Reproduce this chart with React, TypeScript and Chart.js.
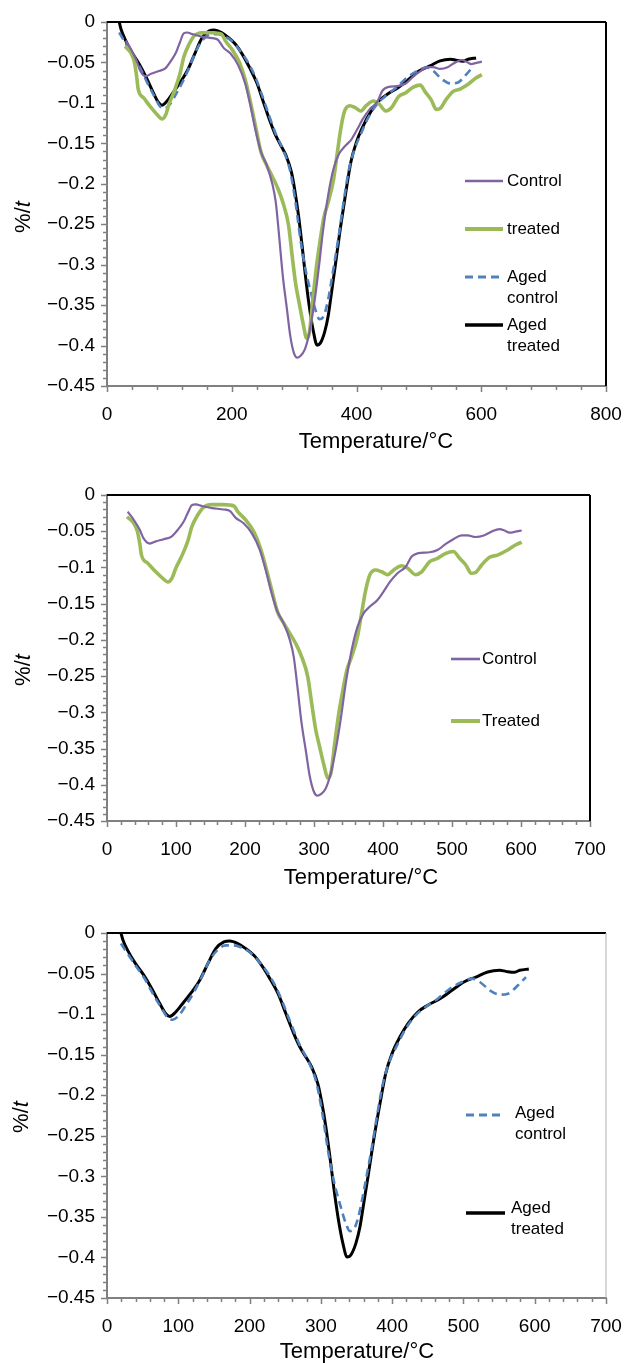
import React, { useEffect, useRef } from 'react';
import { Chart, registerables } from 'chart.js';
Chart.register(...registerables);

// ---------- DATA: [temperature °C, %/t] ----------
const controlPoints: number[][] = [
  [30, -0.023], [39, -0.0345], [47.5, -0.048], [53, -0.06], [62, -0.067], [70.7, -0.064], [82, -0.061],
  [94, -0.057], [102.6, -0.048], [111, -0.037], [117, -0.025], [123, -0.014], [128.6, -0.013], [137, -0.015],
  [152, -0.018], [169, -0.02], [178, -0.022], [187, -0.032], [198, -0.039], [210, -0.053], [221.6, -0.076],
  [230, -0.1035], [238.7, -0.136], [247, -0.161], [256, -0.177], [265, -0.2], [270.6, -0.223], [276, -0.265],
  [282, -0.315], [288, -0.352], [294, -0.389], [300, -0.41], [305, -0.415], [310, -0.413], [317, -0.405],
  [323, -0.389], [328.6, -0.366], [334, -0.338], [340, -0.301], [346, -0.26], [354.6, -0.214], [363, -0.182],
  [372, -0.163], [381, -0.154], [392, -0.145], [401, -0.133], [410, -0.12], [421, -0.108], [433, -0.099],
  [441.5, -0.085], [450, -0.0805], [467.6, -0.079], [479, -0.076], [491, -0.0675], [502, -0.061],
  [514, -0.0557], [522.7, -0.0557], [534, -0.058], [546, -0.056], [557, -0.0506], [569, -0.047],
  [576, -0.049], [583.5, -0.052], [592, -0.0506], [601, -0.049],
];

const treatedPoints: number[][] = [
  [29, -0.03], [38.8, -0.039], [44, -0.05], [47.5, -0.067], [50, -0.083], [59, -0.094], [70.7, -0.106],
  [82, -0.116], [88, -0.12], [94, -0.115], [99.7, -0.101], [108, -0.085], [117, -0.064], [123, -0.0437],
  [131.5, -0.0276], [140, -0.017], [152, -0.0133], [169, -0.0133], [184, -0.0152], [189.5, -0.023],
  [201, -0.0345], [212.7, -0.0506], [221.6, -0.0713], [230, -0.099], [238.7, -0.131], [247, -0.161],
  [256, -0.177], [265, -0.191], [273.5, -0.205], [282, -0.223], [291, -0.251], [296.7, -0.288],
  [302.5, -0.324], [308, -0.347], [315, -0.375], [320, -0.391], [324.5, -0.384], [330, -0.343],
  [336, -0.301], [341.9, -0.269], [347.7, -0.2416], [354.6, -0.223], [363, -0.1956], [369, -0.163],
  [375, -0.131], [381, -0.11], [389.4, -0.1035], [398, -0.106], [406.8, -0.11], [415.5, -0.1035],
  [427, -0.0976], [435.8, -0.101], [447, -0.11], [456, -0.106], [467.6, -0.092], [479, -0.0874],
  [491, -0.0805], [502, -0.078], [511, -0.0874], [520, -0.0966], [528, -0.108], [534, -0.107],
  [543, -0.0966], [554.5, -0.086], [566, -0.083], [580.6, -0.076], [592, -0.069], [601, -0.065],
];

const agedControlPoints: number[][] = [
  [19.6, -0.013], [29, -0.0255], [40, -0.04], [54, -0.058], [65.7, -0.0769], [77, -0.0934], [85, -0.1044],
  [92, -0.107], [101, -0.1015], [110.6, -0.0892], [122, -0.0727], [133, -0.054], [144, -0.0337],
  [155.5, -0.0205], [166.7, -0.0152], [178, -0.0152], [189, -0.018], [200, -0.0234], [211.6, -0.0337],
  [222.9, -0.046], [237, -0.0666], [248, -0.0892], [259, -0.1138], [270.6, -0.1385], [281.8, -0.157],
  [293, -0.182], [301.5, -0.219], [310, -0.268], [318, -0.305], [326.7, -0.334], [335, -0.358],
  [340.7, -0.3675], [348, -0.3625], [354.8, -0.342], [363, -0.305], [371.6, -0.264], [380, -0.219],
  [388, -0.182], [397, -0.157], [408, -0.1365], [419, -0.118], [433, -0.1015], [447, -0.0912],
  [464, -0.081], [481, -0.0687], [498, -0.0604], [512, -0.0563], [523, -0.0604], [537, -0.0707],
  [551, -0.076], [562.5, -0.0748], [576.5, -0.0645], [587.7, -0.0543],
];

const agedTreatedPoints: number[][] = [
  [19.6, 0], [22.5, -0.009], [29, -0.0214], [40, -0.0378], [51.6, -0.052], [62.9, -0.0686], [74, -0.087],
  [82.5, -0.0995], [88, -0.1028], [96.5, -0.0974], [107.8, -0.085], [119, -0.0727], [130, -0.0584],
  [141.5, -0.0378], [152.6, -0.0193], [164, -0.011], [172, -0.0099], [183.6, -0.013], [194.8, -0.0193],
  [206, -0.0275], [217, -0.04], [228.5, -0.0563], [240, -0.0748], [251, -0.0995], [262, -0.124],
  [270.6, -0.1406], [279, -0.153], [287, -0.165], [295.8, -0.186], [301.5, -0.21], [307, -0.239],
  [312.7, -0.276], [318, -0.313], [324, -0.35], [331, -0.383], [336.8, -0.3995], [342, -0.397],
  [349, -0.383], [354.8, -0.3625], [360, -0.334], [366, -0.301], [374, -0.2556], [383, -0.21],
  [391, -0.173], [399.7, -0.149], [411, -0.128], [422, -0.112], [436, -0.0974], [450, -0.089],
  [467, -0.081], [484, -0.0707], [500.7, -0.0604], [517.6, -0.0543], [534, -0.048], [551, -0.046],
  [559.7, -0.0473], [571, -0.0485], [579, -0.046], [591.7, -0.0444],
];

const yMin = -0.45;
const yMax = 0;
const yStep = 0.01;
const xTitle = 'Temperature/°C';

// ---------- styles ----------
const FONT = "'Liberation Sans', Arial, Helvetica, sans-serif";
const seriesStyle: Record<string, any> = {
  control: { borderColor: '#8064A2', borderWidth: 2.2 },
  treated: { borderColor: '#9BBB59', borderWidth: 3.6 },
  agedControl: { borderColor: '#4F81BD', borderWidth: 2.6, borderDash: [8, 5] },
  agedTreated: { borderColor: '#000000', borderWidth: 3 },
};

function makeDataset(label: string, pts: number[][], key: string) {
  return {
    label,
    data: pts.map((p) => ({ x: p[0], y: p[1] })),
    pointRadius: 0,
    fill: false,
    tension: 0.35,
    cubicInterpolationMode: 'monotone',
    ...seriesStyle[key],
  };
}

const tickMarks = {
  id: 'tickMarks',
  afterDraw(chart: any) {
    const ctx = chart.ctx;
    const xs = chart.scales.x;
    const ys = chart.scales.y;
    ctx.save();
    ctx.strokeStyle = '#808080';
    ctx.lineWidth = 1.5;
    ctx.beginPath();
    xs.ticks.forEach((t: any) => {
      const px = Math.round(xs.getPixelForValue(t.value)) + 0.5;
      const len = String(t.label) !== '' ? 6 : 4;
      ctx.moveTo(px, xs.top);
      ctx.lineTo(px, xs.top + len);
    });
    ys.ticks.forEach((t: any) => {
      const py = Math.round(ys.getPixelForValue(t.value)) + 0.5;
      const len = String(t.label) !== '' ? 6 : 4;
      ctx.moveTo(ys.right - len, py);
      ctx.lineTo(ys.right, py);
    });
    ctx.stroke();
    ctx.restore();
  },
};

const frame = {
  id: 'frame',
  afterDraw(chart: any, _a: any, opts: any) {
    const { ctx, chartArea } = chart;
    ctx.save();
    ctx.lineWidth = 2;
    ctx.strokeStyle = opts.topColor;
    ctx.beginPath();
    ctx.moveTo(chartArea.left, chartArea.top);
    ctx.lineTo(chartArea.right, chartArea.top);
    ctx.stroke();
    ctx.strokeStyle = opts.rightColor;
    ctx.lineWidth = opts.rightWidth;
    ctx.beginPath();
    ctx.moveTo(chartArea.right, chartArea.top);
    ctx.lineTo(chartArea.right, chartArea.bottom);
    ctx.stroke();
    ctx.restore();
  },
};

const axisTitles = {
  id: 'axisTitles',
  afterDraw(chart: any, _a: any, opts: any) {
    const ctx = chart.ctx;
    ctx.save();
    ctx.fillStyle = '#000';
    ctx.textBaseline = 'middle';
    ctx.font = `22px ${FONT}`;
    ctx.textAlign = 'center';
    ctx.fillText(opts.xText, opts.xPos[0], opts.xPos[1]);
    // y title: "%/" normal + "t" italic, rotated
    ctx.translate(opts.yPos[0], opts.yPos[1]);
    ctx.rotate(-Math.PI / 2);
    ctx.font = `22px ${FONT}`;
    const a = '%/';
    const wa = ctx.measureText(a).width;
    ctx.font = `italic 22px ${FONT}`;
    const wb = ctx.measureText('t').width;
    const start = -(wa + wb) / 2;
    ctx.textAlign = 'left';
    ctx.font = `22px ${FONT}`;
    ctx.fillText(a, start, 0);
    ctx.font = `italic 22px ${FONT}`;
    ctx.fillText('t', start + wa, 0);
    ctx.restore();
  },
};

const innerLegend = {
  id: 'innerLegend',
  afterDraw(chart: any, _a: any, opts: any) {
    const ctx = chart.ctx;
    ctx.save();
    chart.data.datasets.forEach((ds: any, i: number) => {
      const it = opts.items[i];
      if (!it) return;
      ctx.strokeStyle = ds.borderColor;
      ctx.lineWidth = ds.borderWidth + 0.4;
      ctx.setLineDash(ds.borderDash || []);
      ctx.beginPath();
      ctx.moveTo(it.x1, it.y);
      ctx.lineTo(it.x2, it.y);
      ctx.stroke();
      ctx.setLineDash([]);
      ctx.fillStyle = '#000';
      ctx.font = `17px ${FONT}`;
      ctx.textAlign = 'left';
      ctx.textBaseline = 'middle';
      String(ds.label).split('\n').forEach((line: string, k: number) => {
        ctx.fillText(line, it.tx, it.ty + k * 21);
      });
    });
    ctx.restore();
  },
};

function fmtY(v: number) {
  const n = Math.round(v * 100);
  if (n % 5 !== 0) return '';
  if (n === 0) return '0';
  return '\u2212' + String(Math.abs(n) / 100);
}

type Cfg = {
  top: number;
  height: number;
  plotLeft: number;
  plotRight: number;
  plotTop: number;
  plotBottom: number;
  xMax: number;
  xStep: number;
  xLabelEvery: number;
  datasets: any[];
  legend: any[];
  xTitlePos: number[];
  yTitlePos: number[];
  rightColor: string;
  rightWidth: number;
};

function zeroPad(s: any) {
  s.paddingLeft = 0;
  s.paddingRight = 0;
  s.paddingTop = 0;
  s.paddingBottom = 0;
}

function PanelChart({ cfg }: { cfg: Cfg }) {
  const ref = useRef<HTMLCanvasElement | null>(null);
  useEffect(() => {
    if (!ref.current) return;
    const W = 627;
    const chart = new Chart(ref.current, {
      type: 'line',
      data: { datasets: cfg.datasets },
      plugins: [tickMarks, frame, axisTitles, innerLegend],
      options: {
        animation: false,
        responsive: false,
        maintainAspectRatio: false,
        devicePixelRatio: 1,
        layout: {
          padding: { left: 0, right: W - cfg.plotRight, top: cfg.plotTop - cfg.top, bottom: 0 },
        },
        plugins: {
          legend: { display: false },
          tooltip: { enabled: false },
          frame: { topColor: '#000', rightColor: cfg.rightColor, rightWidth: cfg.rightWidth },
          axisTitles: { xText: xTitle, xPos: cfg.xTitlePos, yPos: cfg.yTitlePos },
          innerLegend: { items: cfg.legend },
        } as any,
        scales: {
          x: {
            type: 'linear',
            min: 0,
            max: cfg.xMax,
            grid: { display: true, drawOnChartArea: false, drawTicks: false },
            border: { display: true, color: '#808080', width: 2 },
            afterFit: (s: any) => {
              s.height = cfg.top + cfg.height - cfg.plotBottom;
              zeroPad(s);
            },
            ticks: {
              stepSize: cfg.xStep,
              autoSkip: false,
              maxRotation: 0,
              padding: 17,
              color: '#000',
              font: { family: FONT, size: 19 },
              callback: (v: any) => (Math.round(Number(v)) % cfg.xLabelEvery === 0 ? String(Math.round(Number(v))) : ''),
            },
          },
          y: {
            type: 'linear',
            min: yMin,
            max: yMax,
            grid: { display: true, drawOnChartArea: false, drawTicks: false },
            border: { display: true, color: '#808080', width: 2 },
            afterFit: (s: any) => {
              s.width = cfg.plotLeft;
              zeroPad(s);
            },
            ticks: {
              stepSize: yStep,
              autoSkip: false,
              padding: 12,
              color: '#000',
              font: { family: FONT, size: 19 },
              callback: (v: any) => fmtY(Number(v)),
            },
          },
        },
      } as any,
    });
    return () => chart.destroy();
  }, [cfg]);
  return (
    <canvas
      ref={ref}
      width={627}
      height={cfg.height}
      style={{ position: 'absolute', left: 0, top: cfg.top, width: 627, height: cfg.height }}
    />
  );
}

const panels: Cfg[] = [
  {
    top: 0,
    height: 465,
    plotLeft: 107,
    plotRight: 606,
    plotTop: 22,
    plotBottom: 386,
    xMax: 800,
    xStep: 40,
    xLabelEvery: 200,
    datasets: [
      makeDataset('Control', controlPoints, 'control'),
      makeDataset('treated', treatedPoints, 'treated'),
      makeDataset('Aged\ncontrol', agedControlPoints, 'agedControl'),
      makeDataset('Aged\ntreated', agedTreatedPoints, 'agedTreated'),
    ],
    legend: [
      { x1: 465, x2: 503, y: 181, tx: 507, ty: 181 },
      { x1: 465, x2: 503, y: 229, tx: 507, ty: 229 },
      { x1: 465, x2: 500, y: 277, tx: 507, ty: 277 },
      { x1: 465, x2: 503, y: 325, tx: 507, ty: 325 },
    ],
    xTitlePos: [376, 442],
    yTitlePos: [24, 217],
    rightColor: '#000',
    rightWidth: 2,
  },
  {
    top: 465,
    height: 440,
    plotLeft: 107,
    plotRight: 590,
    plotTop: 495,
    plotBottom: 821,
    xMax: 700,
    xStep: 20,
    xLabelEvery: 100,
    datasets: [
      makeDataset('Control', controlPoints, 'control'),
      makeDataset('Treated', treatedPoints, 'treated'),
    ],
    legend: [
      { x1: 451, x2: 480, y: 194, tx: 482, ty: 194 },
      { x1: 451, x2: 480, y: 256, tx: 482, ty: 256 },
    ],
    xTitlePos: [361, 413],
    yTitlePos: [24, 205],
    rightColor: '#000',
    rightWidth: 2,
  },
  {
    top: 905,
    height: 458,
    plotLeft: 107,
    plotRight: 606,
    plotTop: 933,
    plotBottom: 1298,
    xMax: 700,
    xStep: 20,
    xLabelEvery: 100,
    datasets: [
      makeDataset('Aged\ncontrol', agedControlPoints, 'agedControl'),
      makeDataset('Aged\ntreated', agedTreatedPoints, 'agedTreated'),
    ],
    legend: [
      { x1: 466, x2: 502, y: 210, tx: 515, ty: 208 },
      { x1: 466, x2: 505, y: 308, tx: 511, ty: 303 },
    ],
    xTitlePos: [357, 447],
    yTitlePos: [22, 212],
    rightColor: '#b0b0b0',
    rightWidth: 1,
  },
];

export default function App() {
  return (
    <div style={{ position: 'absolute', left: 0, top: 0, width: 627, height: 1363, background: '#fff' }}>
      {panels.map((p, i) => (
        <PanelChart key={i} cfg={p} />
      ))}
    </div>
  );
}
